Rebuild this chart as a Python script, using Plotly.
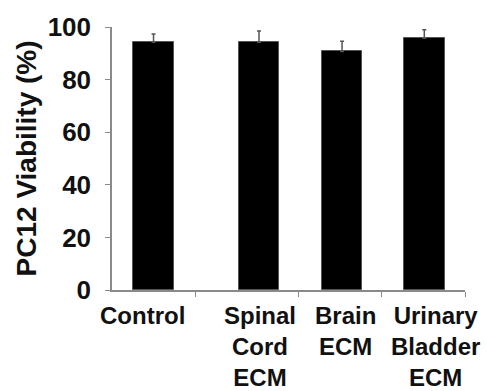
import plotly.graph_objects as go

# ---- data ----
categories = ["Control", "Spinal<br>Cord<br>ECM", "Brain<br>ECM", "Urinary<br>Bladder<br>ECM"]
viability = [94.2, 94.2, 90.7, 95.7]
error_up = [3.1, 4.3, 3.9, 3.3]
y_ticks = [0, 20, 40, 60, 80, 100]

# ---- layout helpers (slot positions on a linear axis) ----
slot_centers = [0.5, 1.77, 2.77, 3.76]
label_centers = [0.37, 1.78, 2.81, 3.89]
boundary_ticks = [1.0, 2.25, 3.25, 4.25]

FONT = "Liberation Sans, Arial, Helvetica, sans-serif"
AXIS_GRAY = "#8a8a8a"

fig = go.Figure()
fig.add_trace(go.Bar(
    x=slot_centers,
    y=viability,
    width=0.49,
    marker=dict(color="black", line=dict(color="#555555", width=1)),
    error_y=dict(type="data", array=error_up, arrayminus=[0] * len(error_up),
                 symmetric=False, color="#555555", thickness=1.5, width=2),
    showlegend=False,
    hoverinfo="y",
))

annotations = []
for xc, lab in zip(label_centers, categories):
    annotations.append(dict(
        x=xc, xref="x", y=0, yref="paper", yanchor="top", xanchor="center",
        yshift=-10, text=lab, showarrow=False, align="center",
        font=dict(family=FONT, size=24, color="#111111", weight="bold"),
    ))
annotations.append(dict(
    x=-0.241, xref="paper", y=0.5, yref="paper", xanchor="center", yanchor="middle",
    text="PC12 Viability (%)", textangle=-90, showarrow=False,
    font=dict(family=FONT, size=28, color="#111111", weight="bold"),
))

fig.update_layout(
    width=487, height=391,
    margin=dict(l=112, r=22, t=20, b=101, pad=0),
    paper_bgcolor="white", plot_bgcolor="white",
    annotations=annotations,
    bargap=0,
    xaxis=dict(
        range=[0, 4.25], tickmode="array", tickvals=boundary_ticks,
        showticklabels=False, ticks="outside", ticklen=5, tickcolor=AXIS_GRAY,
        showline=True, linecolor=AXIS_GRAY, linewidth=1.5,
        showgrid=False, zeroline=False, fixedrange=True,
    ),
    yaxis=dict(
        range=[0, 100], tickmode="array", tickvals=y_ticks,
        ticks="outside", ticklen=5, tickcolor=AXIS_GRAY, tickwidth=1,
        showline=True, linecolor=AXIS_GRAY, linewidth=1.5,
        showgrid=False, zeroline=False,
        tickfont=dict(family=FONT, size=26, color="#111111", weight="bold"),
        ticklabelstandoff=9,
    ),
)

fig.write_html("out.html")
